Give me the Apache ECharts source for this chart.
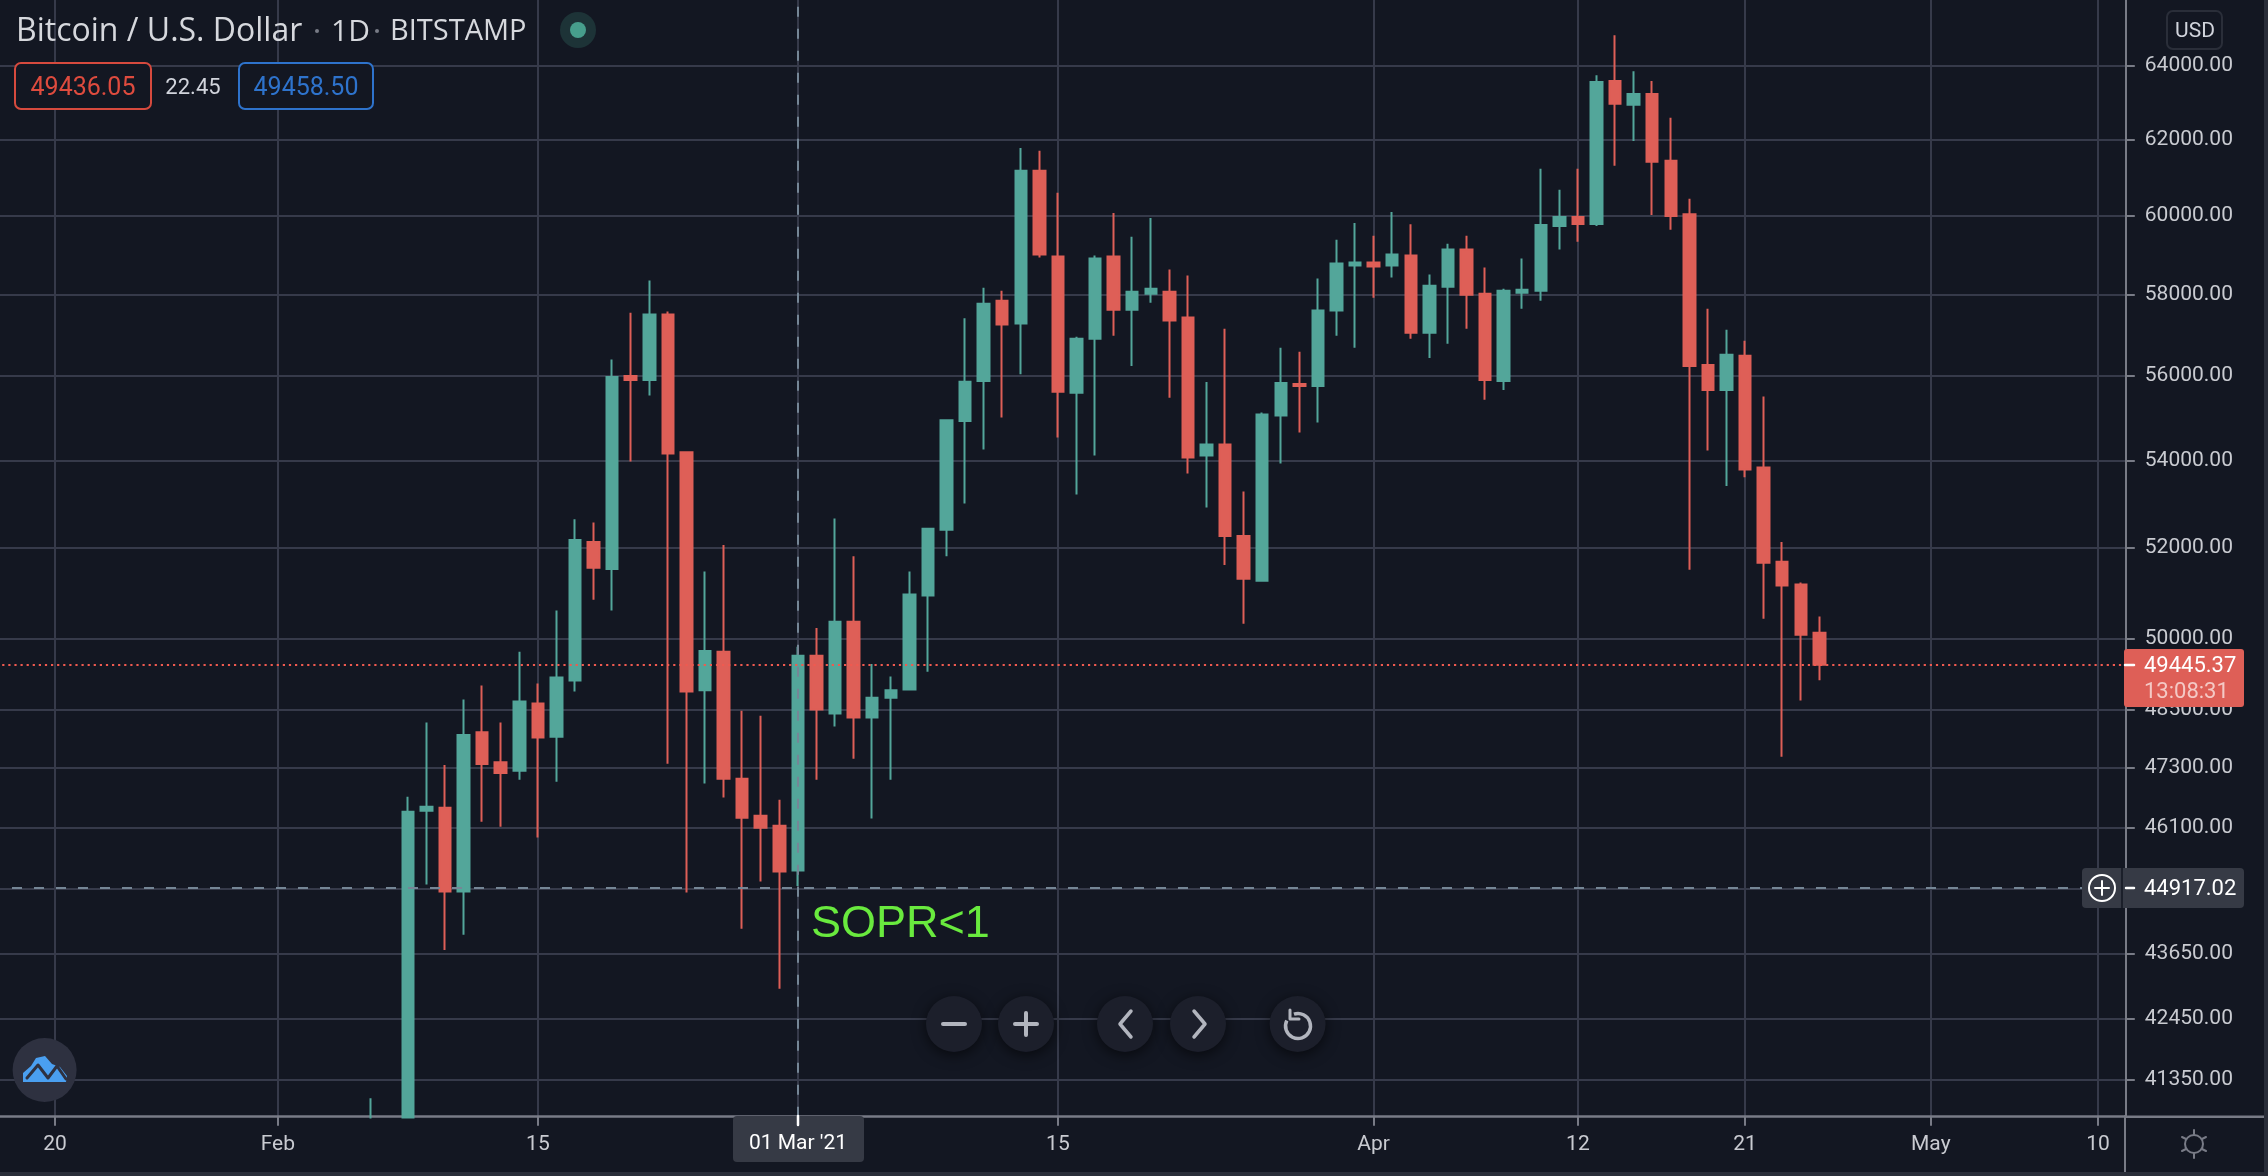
<!DOCTYPE html>
<html>
<head>
<meta charset="utf-8">
<style>html,body{margin:0;padding:0;background:#131722;}#chart{width:2268px;height:1176px;}</style>
<script src="https://cdn.jsdelivr.net/npm/echarts@6/dist/echarts.min.js"></script>
</head>
<body>
<div id="chart"></div>
<script>
const categories = ['2021-01-17','2021-01-18','2021-01-19','2021-01-20','2021-01-21','2021-01-22','2021-01-23','2021-01-24','2021-01-25','2021-01-26','2021-01-27','2021-01-28','2021-01-29','2021-01-30','2021-01-31',
'2021-02-01','2021-02-02','2021-02-03','2021-02-04','2021-02-05','2021-02-06','2021-02-07','2021-02-08','2021-02-09','2021-02-10','2021-02-11','2021-02-12','2021-02-13','2021-02-14','2021-02-15','2021-02-16','2021-02-17','2021-02-18','2021-02-19','2021-02-20','2021-02-21','2021-02-22','2021-02-23','2021-02-24','2021-02-25','2021-02-26','2021-02-27','2021-02-28',
'2021-03-01','2021-03-02','2021-03-03','2021-03-04','2021-03-05','2021-03-06','2021-03-07','2021-03-08','2021-03-09','2021-03-10','2021-03-11','2021-03-12','2021-03-13','2021-03-14','2021-03-15','2021-03-16','2021-03-17','2021-03-18','2021-03-19','2021-03-20','2021-03-21','2021-03-22','2021-03-23','2021-03-24','2021-03-25','2021-03-26','2021-03-27','2021-03-28','2021-03-29','2021-03-30','2021-03-31',
'2021-04-01','2021-04-02','2021-04-03','2021-04-04','2021-04-05','2021-04-06','2021-04-07','2021-04-08','2021-04-09','2021-04-10','2021-04-11','2021-04-12','2021-04-13','2021-04-14','2021-04-15','2021-04-16','2021-04-17','2021-04-18','2021-04-19','2021-04-20','2021-04-21','2021-04-22','2021-04-23','2021-04-24','2021-04-25','2021-04-26','2021-04-27','2021-04-28','2021-04-29','2021-04-30',
'2021-05-01','2021-05-02','2021-05-03','2021-05-04','2021-05-05','2021-05-06','2021-05-07','2021-05-08','2021-05-09','2021-05-10','2021-05-11'];

const firstCandleDate = '2021-02-06';
const opens = [38300,39200,38850,46433,46493,44842,48030,47413,47239,48629,47936,49113,52132,51529,56000,55900,57500,54185,48903,49726,47073,46333,46133,
45252,49637,48420,50370,48333,48750,48919,50941,52405,54919,55875,57844,57276,61175,58953,55592,56905,58953,57621,58017,58068,57424,54110,54368,52268,51270,55051,55804,55757,57597,58726,
58802,58726,58979,57052,58194,59131,58017,55875,58042,58093,59738,59966,59789,63586,62937,63234,61438,60042,56263,55662,56486,53832,51687,51183,50131];
const closes = [39200,38850,46413,46513,44842,47970,47375,47193,48669,47920,49177,52176,51554,55973,55900,57500,54159,48879,49742,47078,46293,46093,45233,
49637,48500,50370,48333,48750,48903,50966,52432,54937,55856,57770,57251,61175,59004,55616,56905,58903,57621,58068,58143,57350,54063,54368,52268,51314,55075,55828,55757,57597,58776,58802,
58701,59004,57052,58219,59131,57992,55898,58093,58118,59764,59966,59789,63559,62964,63234,61412,59991,56239,55662,56510,53786,51665,51161,50088,49445.37];
const lows = [38100,37400,38000,44979,43727,44015,46213,46113,47055,45898,47017,48879,50848,50613,53974,55531,47380,44823,46979,46696,44131,45037,43004,
44950,47055,48150,47483,46275,47055,48919,49299,51815,53004,54252,55004,56041,58928,54534,53211,54111,56979,56239,57794,55475,53694,52912,51620,50328,51248,53923,54651,54887,56979,56683,
57918,58422,56905,56436,56782,57147,55428,55663,57646,57844,59131,59333,59738,61307,61965,60017,59637,51512,54230,53402,53609,50438,47523,48689,49117];
const highs = [41020,39700,46713,48230,47353,48710,49008,48230,49726,49048,50613,52643,52573,56396,57547,58350,57576,54200,51471,52062,48476,48373,46653,
49831,50235,52661,51815,49460,49194,51471,52432,54937,57406,58169,58093,61781,61702,60596,56955,58979,60070,59460,59941,58625,58473,55851,57147,53279,55122,56683,56584,58397,59384,59814,
59485,60096,59780,58498,59283,59485,58675,58143,58903,61228,60675,61228,63748,64856,63856,63586,62586,60439,57646,57127,56856,55504,52131,51227,50482];

const priceTicks = [64000,62000,60000,58000,56000,54000,52000,50000,48500,47300,46100,44900,43650,42450,41350];
const priceLabels = [64000,62000,60000,58000,56000,54000,52000,50000,48500,47300,46100,43650,42450,41350];
const dateTicks = ['2021-01-20','2021-02-01','2021-02-15','2021-03-01','2021-03-15','2021-04-01','2021-04-12','2021-04-21','2021-05-01','2021-05-10'];
const dateTickLabels = ['20','Feb','15','',"15",'Apr','12','21','May','10'];
const lastPrice = 49445.37;
const crosshairPrice = 44917.02;
const crosshairDate = '2021-03-01';

const UP = '#53a69a', DOWN = '#de5f57', BG = '#131722', GRID = '#363a4a', AXIS = '#787b86', TXT = '#c9cbd1';
const FONT = 'Roboto';
const start = categories.indexOf(firstCandleDate);
const candleData = categories.map((d, i) => {
  const k = i - start;
  return (k >= 0 && k < opens.length) ? [opens[k], closes[k], lows[k], highs[k]] : ['-', '-', '-', '-'];
});
const isDateTick = (i, name) => dateTicks.includes(name);

function txt(x, y, text, size, fill, align, family) {
  return { type: 'text', z: 120, silent: true, x, y: y + 1.5, style: { text, fill, font: size + 'px "' + (family || FONT) + '"', textAlign: align || 'left', textVerticalAlign: 'middle' } };
}
function rect(x, y, w, h, fill, stroke, r, lw) {
  return { type: 'rect', z: 110, silent: true, shape: { x, y, width: w, height: h, r: r || 0 }, style: { fill: fill || 'transparent', stroke: stroke || null, lineWidth: lw || 0 } };
}
function ln(x1, y1, x2, y2, stroke, lw, z) {
  return { type: 'line', z: z || 115, silent: true, shape: { x1, y1, x2, y2 }, style: { stroke, lineWidth: lw || 2, lineCap: 'round' } };
}
function poly(pts, stroke, lw) {
  return { type: 'polyline', z: 115, silent: true, shape: { points: pts }, style: { stroke, lineWidth: lw || 3, fill: null, lineCap: 'round', lineJoin: 'round' } };
}
function btn(cx, cy) {
  return { type: 'circle', z: 110, silent: true, shape: { cx, cy, r: 28 }, style: { fill: '#1c1f2b', shadowBlur: 14, shadowColor: 'rgba(0,0,0,0.6)', shadowOffsetY: 3 } };
}
const ICON = '#b2b5be', BY = 1024;

const graphics = [
  // marks that run below the price range stop at the time axis
  Object.assign(rect(352, 1118.5, 74, 54, BG), { z: 60 }),
  // frame strips and axis extensions
  rect(2264, 0, 4, 1176, '#2a2e39'),
  rect(0, 1172, 2268, 4, '#2a2e39'),
  ln(2126, 1116.7, 2264, 1116.7, AXIS, 2.5, 105),
  ln(2125, 1116, 2125, 1172, AXIS, 2, 105),
  // header
  txt(16, 30.5, 'Bitcoin / U.S. Dollar', 32, '#d6d8dd', 'left', 'Open Sans'),
  { type: 'circle', z: 115, silent: true, shape: { cx: 317, cy: 31, r: 2 }, style: { fill: '#787b86' } },
  txt(331, 30.5, '1D', 30, '#d6d8dd', 'left', 'Open Sans'),
  { type: 'circle', z: 115, silent: true, shape: { cx: 377, cy: 31, r: 2 }, style: { fill: '#787b86' } },
  txt(390, 30.5, 'BITSTAMP', 29, '#d6d8dd', 'left', 'Open Sans'),
  { type: 'circle', z: 110, silent: true, shape: { cx: 578, cy: 30, r: 18 }, style: { fill: '#1d3337' } },
  { type: 'circle', z: 115, silent: true, shape: { cx: 578, cy: 30, r: 8 }, style: { fill: '#479e8c' } },
  rect(15, 63, 136, 46, BG, '#d64a3e', 6, 2),
  txt(83, 87, '49436.05', 25, '#de4b3e', 'center'),
  txt(193, 87, '22.45', 22, '#d1d4dc', 'center'),
  rect(239, 63, 134, 46, BG, '#2e73cc', 6, 2),
  txt(306, 87, '49458.50', 25, '#2e73cc', 'center'),
  // USD box
  rect(2167, 11, 55, 38, BG, '#2a2e39', 6, 2),
  txt(2195, 30, 'USD', 21, '#d1d4dc', 'center'),
  // last price
  rect(2124, 649, 120, 58, '#de5f57', null, 3),
  ln(2125, 665, 2134, 665, '#ffffff', 2.5),
  txt(2144, 665, '49445.37', 22, '#ffffff'),
  txt(2144, 691, '13:08:31', 22, '#f4c9c5'),
  // crosshair price tag
  rect(2082, 868, 162, 40, '#363a45', null, 4),
  ln(2122, 868, 2122, 908, BG, 1.5),
  ln(2126, 888, 2134, 888, '#ffffff', 2.5),
  txt(2144, 888, '44917.02', 22, '#ffffff'),
  { type: 'circle', z: 115, silent: true, shape: { cx: 2102, cy: 888, r: 13 }, style: { fill: 'transparent', stroke: '#ffffff', lineWidth: 2 } },
  ln(2095, 888, 2109, 888, '#ffffff', 2), ln(2102, 881, 2102, 895, '#ffffff', 2),
  // crosshair date tag
  rect(733, 1116, 131, 46, '#363a45', null, 4),
  ln(798, 1116, 798, 1125, '#ffffff', 2.5),
  txt(798, 1142, "01 Mar '21", 21, '#ffffff', 'center'),
  // annotation
  { type: 'text', z: 120, silent: true, x: 811, y: 925, style: { text: 'SOPR<1', fill: '#69ea3e', font: '45px "Liberation Sans"', textAlign: 'left', textVerticalAlign: 'middle' } },
  // navigation buttons
  btn(954, BY), ln(943, BY, 965, BY, ICON, 4),
  btn(1026, BY), ln(1015, BY, 1037, BY, ICON, 4), ln(1026, BY - 11, 1026, BY + 11, ICON, 4),
  btn(1125, BY), poly([[1131, BY - 13], [1120, BY], [1131, BY + 13]], ICON, 3.5),
  btn(1198, BY), poly([[1194, BY - 13], [1205, BY], [1194, BY + 13]], ICON, 3.5),
  btn(1297.6, BY),
  { type: 'arc', z: 115, silent: true, shape: { cx: 1298, cy: BY + 2, r: 12.5, startAngle: -1.9, endAngle: 3.6, clockwise: true }, style: { stroke: ICON, lineWidth: 3.5, fill: null } },
  poly([[1290, BY - 14], [1290, BY - 5], [1299, BY - 5]], ICON, 3),
  // logo
  { type: 'circle', z: 110, silent: true, shape: { cx: 44.6, cy: 1070, r: 32 }, style: { fill: '#2e3140' } },
  { type: 'polygon', z: 112, silent: true, shape: { points: [[23, 1082], [23, 1073], [31, 1066], [36, 1058], [45, 1056], [52, 1064], [60, 1067], [67, 1076], [66, 1082]] }, style: { fill: '#4a9ff0' } },
  poly([[27, 1078], [38, 1065], [48, 1078], [57, 1066], [66, 1079]], '#2e3140', 3),
  // settings gear
  { type: 'circle', z: 115, silent: true, shape: { cx: 2194, cy: 1144, r: 9 }, style: { fill: 'transparent', stroke: AXIS, lineWidth: 2 } },
  ln(2194, 1130, 2194, 1134, AXIS, 2), ln(2194, 1154, 2194, 1158, AXIS, 2),
  ln(2182, 1137, 2186, 1139, AXIS, 2), ln(2202, 1149, 2206, 1151, AXIS, 2),
  ln(2182, 1151, 2186, 1149, AXIS, 2), ln(2202, 1139, 2206, 1137, AXIS, 2)
];

const chart = echarts.init(document.getElementById('chart'));
chart.setOption({
  animation: false,
  backgroundColor: BG,
  textStyle: { fontFamily: FONT },
  grid: { left: -10, right: 142.2, top: 0, bottom: 59.3, containLabel: false, outerBoundsMode: 'none' },
  xAxis: {
    type: 'category',
    data: categories,
    boundaryGap: true,
    axisLine: { onZero: false, lineStyle: { color: AXIS, width: 2.5 } },
    axisTick: { show: true, alignWithLabel: true, length: 9, interval: isDateTick, lineStyle: { color: AXIS, width: 2 } },
    axisLabel: {
      show: true, interval: isDateTick, margin: 18, color: TXT, fontSize: 21, fontFamily: FONT,
      formatter: (v) => dateTickLabels[dateTicks.indexOf(v)] || ''
    },
    splitLine: { show: true, alignWithLabel: true, interval: isDateTick, lineStyle: { color: GRID, width: 2 } }
  },
  yAxis: {
    type: 'log',
    logBase: 10,
    position: 'right',
    min: 40696,
    max: 65846,
    axisLine: { show: true, onZero: false, lineStyle: { color: AXIS, width: 2 } },
    axisTick: { show: true, length: 9, customValues: priceTicks, lineStyle: { color: AXIS, width: 2 } },
    axisLabel: { show: true, margin: 19, customValues: priceLabels, color: TXT, fontSize: 21, fontFamily: FONT, verticalAlign: 'middle', lineHeight: 29, padding: [3, 0, 0, 0], hideOverlap: false, formatter: (v) => Number(v).toFixed(2) },
    splitLine: { show: true, lineStyle: { color: GRID, width: 2 } },
    minorTick: { show: false }, minorSplitLine: { show: false }
  },
  series: [{
    type: 'candlestick',
    barWidth: 12,
    data: candleData,
    itemStyle: { color: UP, color0: DOWN, borderColor: UP, borderColor0: DOWN, borderWidth: 2 },
    markLine: {
      silent: true, symbol: 'none', animation: false, z: 6, label: { show: false },
      data: [
        { yAxis: lastPrice, lineStyle: { color: '#ef5a50', type: [2.2, 3.9], width: 2 } },
        { yAxis: crosshairPrice, lineStyle: { color: '#758696', type: [10, 12], width: 2 } },
        { xAxis: crosshairDate, lineStyle: { color: '#758696', type: [10, 12], width: 2 } }
      ]
    }
  }],
  graphic: { elements: graphics }
});
</script>
</body>
</html>
